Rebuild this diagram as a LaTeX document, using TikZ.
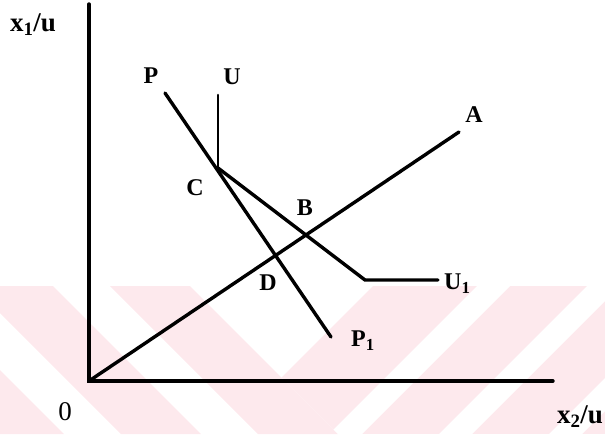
\documentclass[tikz,border=0pt]{standalone}
\usepackage{fontspec}
\setmainfont{Liberation Serif}
\usepackage{tikz}

\begin{document}
\begin{tikzpicture}[x=1pt, y=-1pt, every node/.style={inner sep=0pt, font=\fontsize{24}{26}\selectfont\bfseries}]
  \definecolor{wmpink}{RGB}{253,233,237}
  \tikzstyle{line} = [line width=3.4pt, line cap=round]
  \tikzstyle{axlbl} = [font=\fontsize{27}{30}\selectfont\bfseries]
  \useasboundingbox (0,0) rectangle (605,434);
  \begin{scope}
    \clip (0,286) rectangle (605,434);
    \fill[wmpink] (-164,286) -- (-84,286) -- (64,434) -- (-16,434) -- cycle;
    \fill[wmpink] (-27,286) -- (53,286) -- (201,434) -- (121,434) -- cycle;
    \fill[wmpink] (110,286) -- (190,286) -- (338,434) -- (258,434) -- cycle;
    \begin{scope}
      \clip (373,286) -- (605,286) -- (605,434) -- (338,434) -- (281.5,377.5) -- cycle;
      \fill[wmpink] (0,286) rectangle (605,434);
      \fill[white] (477,286) -- (510,286) -- (362,434) -- (329,434) -- cycle;
      \fill[white] (587,286) -- (620,286) -- (472,434) -- (439,434) -- cycle;
      \fill[white] (697,286) -- (730,286) -- (582,434) -- (549,434) -- cycle;
    \end{scope}
  \end{scope}
  \coordinate (O) at (89,381);
  \coordinate (ytop) at (89,4);
  \coordinate (xend) at (553,381);
  \coordinate (Aend) at (459,132);
  \coordinate (Ptop) at (165,93);
  \coordinate (Pbot) at (331,337);
  \coordinate (Utop) at (218,95);
  \coordinate (Cpt) at (218,168);
  \coordinate (kink) at (365,280);
  \coordinate (U1end) at (438,280);
  \draw[line] (ytop) -- (O) -- (xend);
  \draw[line] (O) -- (Aend);
  \draw[line] (Ptop) -- (Pbot);
  \draw[line, line width=2.6pt] (Utop) -- (Cpt);
  \draw[line] (Cpt) -- (kink) -- (U1end);
  \node[axlbl] (x1u) at (33,25) {x\textsubscript{1}/u};
  \node[axlbl] (x2u) at (580,417) {x\textsubscript{2}/u};
  \node[font=\fontsize{27}{30}\selectfont] (zero) at (65,412) {0};
  \node (Plbl) at (151,76) {P};
  \node (Ulbl) at (232,77) {U};
  \node (Clbl) at (195,188) {C};
  \node (Blbl) at (305,208) {B};
  \node (Dlbl) at (268,283) {D};
  \node (Albl) at (474,115) {A};
  \node[anchor=west] (U1lbl) at (444,284) {U\textsubscript{1}};
  \node[anchor=west] (P1lbl) at (351,341) {P\textsubscript{1}};
\end{tikzpicture}
\end{document}
